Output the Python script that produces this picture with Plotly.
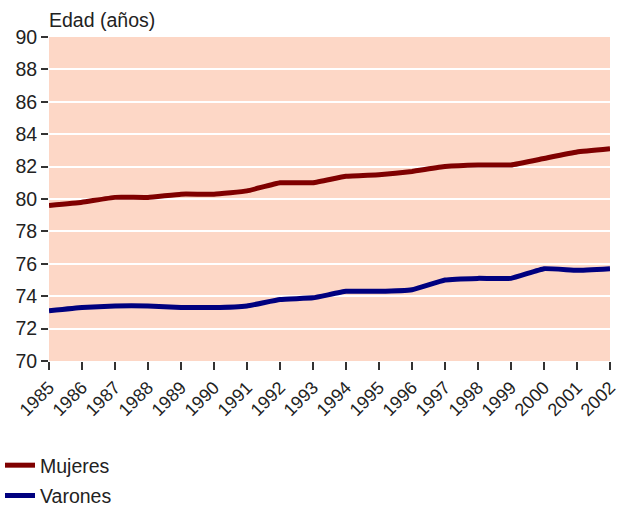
import plotly.graph_objects as go

years = [str(y) for y in range(1985, 2003)]
mujeres = [79.6, 79.8, 80.1, 80.1, 80.3, 80.3, 80.5, 81.0, 81.0, 81.4, 81.5, 81.7,
           82.0, 82.1, 82.1, 82.5, 82.9, 83.1]
varones = [73.1, 73.3, 73.4, 73.4, 73.3, 73.3, 73.4, 73.8, 73.9, 74.3, 74.3, 74.4,
           75.0, 75.1, 75.1, 75.7, 75.6, 75.7]
y_ticks = list(range(70, 91, 2))

FONT = "Liberation Sans, Arial, sans-serif"
TXT = "#222222"
FS = 19.5

fig = go.Figure()
fig.add_trace(go.Scatter(x=years, y=mujeres, mode="lines", name="Mujeres",
                         line=dict(color="#7f0000", width=5, shape="spline", smoothing=0.3),
                         legendgroup="m"))
fig.add_trace(go.Scatter(x=years, y=varones, mode="lines", name="Varones",
                         line=dict(color="#00007f", width=5, shape="spline", smoothing=0.3),
                         legendgroup="v"))

fig.update_layout(
    width=618, height=506,
    margin=dict(l=49, r=8, t=37, b=145, autoexpand=False),
    paper_bgcolor="white",
    plot_bgcolor="#fdd7c6",
    font=dict(family=FONT, size=FS, color=TXT),
    showlegend=True,
    legend=dict(xref="container", yref="container", x=0, y=1 - 446 / 506,
                xanchor="left", yanchor="top", orientation="v",
                font=dict(size=FS, color=TXT), tracegroupgap=2,
                bgcolor="rgba(0,0,0,0)", itemwidth=30),
    annotations=[dict(text="Edad (años)", xref="paper", yref="paper", x=0, y=1,
                      xanchor="left", yanchor="bottom", yshift=4, xshift=-2,
                      showarrow=False, font=dict(size=FS, color=TXT))],
)
fig.update_xaxes(
    type="category", range=[0, len(years) - 1], automargin=False,
    showgrid=False, zeroline=False, showline=False,
    ticks="outside", ticklen=8, tickwidth=1.5, tickcolor="#333333",
    tickangle=-45, tickfont=dict(size=18, color=TXT),
)
fig.update_yaxes(
    range=[70, 90], tickvals=y_ticks, automargin=False,
    showgrid=True, gridcolor="white", gridwidth=2,
    zeroline=False, showline=False,
    ticks="outside", ticklen=7, tickwidth=1.5, tickcolor="#333333",
    tickfont=dict(size=FS, color=TXT),
)

fig.write_html("out.html", config={"displayModeBar": False},
               post_script="document.body.style.margin='0';document.body.style.overflow='hidden';")
